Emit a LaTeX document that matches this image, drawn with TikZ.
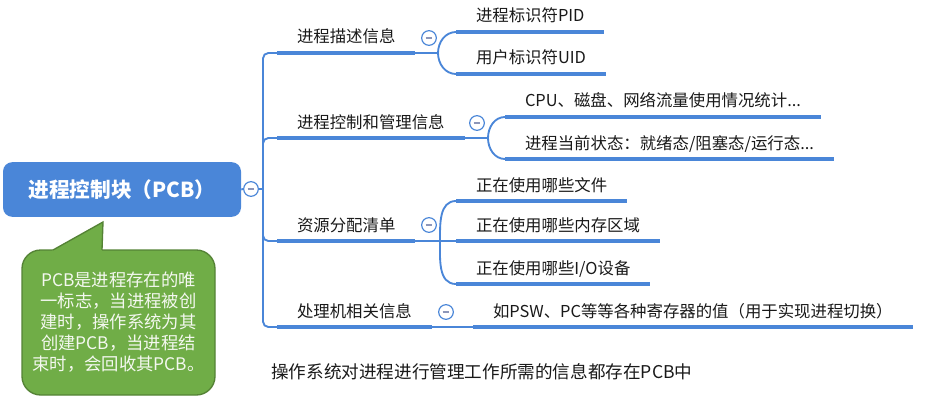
\documentclass[tikz,border=0pt]{standalone}
\usepackage{fontspec}
\setmainfont{Noto Sans CJK SC}
\definecolor{MapBlue}{RGB}{74,134,216}
\definecolor{NoteGreen}{RGB}{112,173,71}
\definecolor{NoteEdge}{RGB}{84,130,53}
\definecolor{FoldGray}{RGB}{140,150,185}
\definecolor{InkDark}{RGB}{25,25,25}

\tikzset{
  topic/.style={anchor=south west, inner xsep=15pt, inner ysep=0pt, outer sep=0pt,
    text height=9pt, text depth=7.5pt, text=InkDark, font=\fontsize{12.3}{14}\selectfont},
  uline/.style={MapBlue, line width=3.2pt},
  link/.style={MapBlue, line width=1.4pt},
  fold/.style={circle, draw=MapBlue, fill=white, line width=0.9pt, minimum size=11pt,
    inner sep=0pt, path picture={\draw[FoldGray, line width=1.1pt]
      ([xshift=-2.6pt]path picture bounding box.center) --
      ([xshift=2.6pt]path picture bounding box.center);}}
}

\begin{document}
\begin{tikzpicture}[x=0.75pt, y=-0.75pt]
  \useasboundingbox (0,0) rectangle (931,410);

  % root and callout
  \node[fill=MapBlue, rounded corners=7pt, minimum width=178.5pt, minimum height=41pt,
    text=white, font=\fontsize{15.5}{18}\selectfont\bfseries] (pcb) at (122,189.5)
    {进程控制块（PCB）};
  \node[fill=NoteGreen, draw=NoteEdge, line width=1pt, rounded corners=14pt,
    minimum width=144.75pt, minimum height=108.75pt, text=white!92!NoteGreen,
    align=center, font=\fontsize{13}{15.75}\selectfont] (note) at (118.5,322.5)
    {PCB是进程存在的唯\\一标志，当进程被创\\建时，操作系统为其\\创建PCB，当进程结\\束时，会回收其PCB。};
  \fill[NoteGreen] (51,252) -- (53,250) -- (103,222) -- (102,250) -- (102,252) -- cycle;
  \draw[NoteEdge, line width=1pt] (53,250) -- (103,222) -- (102,250);

  % first level
  \node[topic] (d1) at (277,53) {进程描述信息};
  \node[topic] (d2) at (277,138) {进程控制和管理信息};
  \node[topic] (d3) at (277,241) {资源分配清单};
  \node[topic] (d4) at (277,327) {处理机相关信息};

  % second level
  \node[topic] (p1) at (456,32) {进程标识符PID};
  \node[topic] (p2) at (456,74) {用户标识符UID};
  \node[topic] (m1) at (505,117) {CPU、磁盘、网络流量使用情况统计...};
  \node[topic] (m2) at (505,159) {进程当前状态：就绪态/阻塞态/运行态...};
  \node[topic] (r1) at (456,201) {正在使用哪些文件};
  \node[topic] (r2) at (456,241) {正在使用哪些内存区域};
  \node[topic] (r3) at (456,284) {正在使用哪些I/O设备};
  \node[topic] (q1) at (473,327) {如PSW、PC等等各种寄存器的值（用于实现进程切换）};

  \foreach \n in {d1,d2,d3,d4,p1,p2,m1,m2,r1,r2,r3,q1}
    \draw[uline] (\n.south west) -- (\n.south east);

  % fold buttons
  \node[fold] (f0) at (251,189) {};
  \node[fold] (f1) at (429,38) {};
  \node[fold] (f2) at (477,123) {};
  \node[fold] (f3) at (429,225) {};
  \node[fold] (f4) at (446,312) {};

  % trunk
  \coordinate (tk) at (263,189);
  \draw[link] (pcb.east) -- (f0.west);
  \draw[link] (f0.east) -- (tk);
  \draw[link, rounded corners=4pt] (tk) |- (d1.south west);
  \draw[link, rounded corners=4pt] (tk) |- (d2.south west);
  \draw[link, rounded corners=4pt] (tk) |- (d3.south west);
  \draw[link, rounded corners=4pt] (tk) |- (d4.south west);

  % branches
  \coordinate (b1) at (438,53);
  \coordinate (b2) at (488,138);
  \coordinate (b3) at (440,241);
  \draw[link] (d1.south east) -- (b1);
  \draw[link] (b1) to[out=90, in=180] (p1.south west);
  \draw[link] (b1) to[out=-90, in=180] (p2.south west);
  \draw[link] (d2.south east) -- (b2);
  \draw[link] (b2) to[out=90, in=180] (m1.south west);
  \draw[link] (b2) to[out=-90, in=180] (m2.south west);
  \draw[link] (d3.south east) -- (r2.south west);
  \draw[link] (b3) to[out=90, in=180] (r1.south west);
  \draw[link] (b3) to[out=-90, in=180] (r3.south west);
  \draw[link] (d4.south east) -- (q1.south west);

  \node[anchor=west, inner sep=0pt, text=InkDark, font=\fontsize{13.2}{16}\selectfont]
    (summary) at (271,372) {操作系统对进程进行管理工作所需的信息都存在PCB中};
\end{tikzpicture}
\end{document}
